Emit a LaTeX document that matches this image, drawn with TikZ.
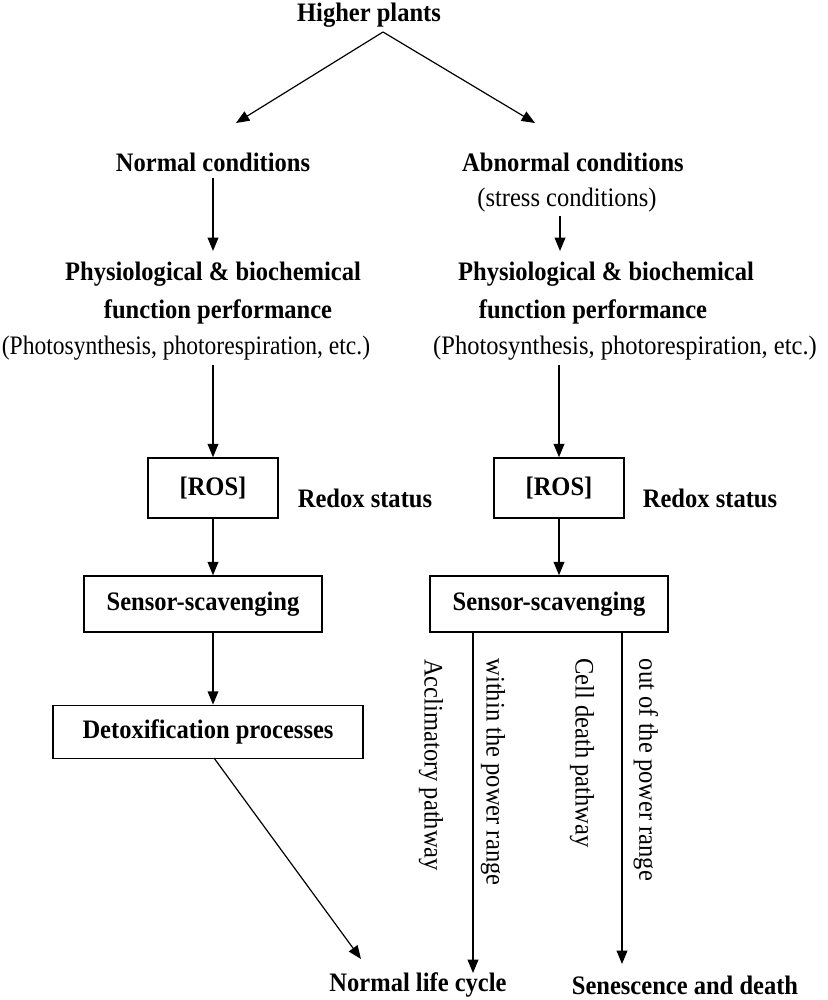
\documentclass[tikz,border=0pt]{standalone}
\usepackage{fontspec}
\setmainfont{Liberation Serif}[FakeStretch=0.92]
\usetikzlibrary{arrows.meta}
\begin{document}
\begin{tikzpicture}[x=0.75pt,y=-0.75pt,
  every node/.style={font=\fontsize{20}{24}\selectfont, inner sep=0pt},
  bt/.style={font=\fontsize{20}{24}\selectfont\bfseries},
  rt/.style={font=\fontsize{20}{24}\selectfont},
  box/.style={draw, line width=1.1pt, font=\fontsize{20}{24}\selectfont\bfseries},
  arr/.style={line width=1.1pt, -{Triangle[length=10pt,width=8pt]}},
  thin arr/.style={line width=0.9pt, -{Triangle[length=10pt,width=8pt]}},
  vlab/.style={font=\fontsize{20}{24}\selectfont, rotate=-90}]
\useasboundingbox (0,0) rectangle (828,1000);
% titles
\node[bt] (hp) at (369,15) {Higher plants};
\coordinate (apex) at (383,32);
\coordinate (tl) at (236,123);
\coordinate (tr) at (535,123);
\node[bt] (nc) at (213,162) {Normal conditions};
\node[bt] (ac) at (573,162) {Abnormal conditions};
\node[rt] (sc) at (567,200) {(stress conditions)};
\node[bt] (pl1) at (213,274) {Physiological \& biochemical};
\node[bt] (pl2) at (218,312) {function performance};
\node[rt, xscale=0.96] (pl3) at (186,348) {(Photosynthesis, photorespiration, etc.)};
\node[bt] (pr1) at (606,274) {Physiological \& biochemical};
\node[bt] (pr2) at (593,312) {function performance};
\node[rt] (pr3) at (625,348) {(Photosynthesis, photorespiration, etc.)};
% boxes
\node[box, minimum width=97.5pt, minimum height=45pt] (rosl) at (213,488) {[ROS]};
\node[box, minimum width=97.5pt, minimum height=45pt] (rosr) at (559,488) {[ROS]};
\node[bt] (rxl) at (365,498) {Redox status};
\node[bt] (rxr) at (710,498) {Redox status};
\node[box, minimum width=178.5pt, minimum height=42pt] (ssl) at (203,604) {Sensor-scavenging};
\node[box, minimum width=178.5pt, minimum height=42pt] (ssr) at (549,604) {Sensor-scavenging};
\node[box, minimum width=232.5pt, minimum height=40pt] (det) at (208,732) {Detoxification processes};
% bottom
\node[bt] (nlc) at (418,985) {Normal life cycle};
\node[bt] (sad) at (685,985) {Senescence and death};
% vertical labels
\node[vlab] (l1) at (431,765) {Acclimatory pathway};
\node[vlab] (l2) at (493,772) {within the power range};
\node[vlab] (l3) at (582,753) {Cell death pathway};
\node[vlab] (l4) at (646,770) {out of the power range};
% connectors
\draw[thin arr] (apex) -- (tl);
\draw[thin arr] (apex) -- (tr);
\coordinate (a1s) at (213,178);
\coordinate (a1e) at (213,251);
\draw[arr] (a1s) -- (a1e);
\coordinate (a2s) at (560,216);
\coordinate (a2e) at (560,251);
\draw[arr] (a2s) -- (a2e);
\coordinate (a3s) at (213,365);
\draw[arr] (a3s) -- (rosl.north);
\coordinate (a4s) at (559,365);
\draw[arr] (a4s) -- (rosr.north);
\draw[arr] (rosl.south) -- (rosl.south |- ssl.north);
\draw[arr] (rosr.south) -- (rosr.south |- ssr.north);
\draw[arr] (ssl.south -| rosl.south) -- (rosl.south |- det.north);
\coordinate (d1) at (214,758);
\coordinate (e3) at (361,959);
\draw[thin arr] (d1) -- (e3);
\coordinate (e1) at (473,973);
\coordinate (e2) at (622,964);
\draw[arr] (e1 |- ssr.south) -- (e1);
\draw[arr] (e2 |- ssr.south) -- (e2);
\end{tikzpicture}
\end{document}
